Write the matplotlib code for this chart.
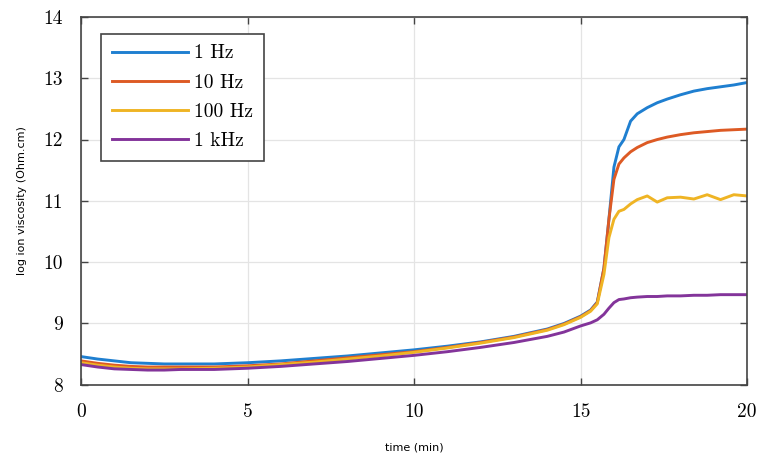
import matplotlib.pyplot as plt
import numpy as np

# time axis (min)
t = [0, 0.5, 1, 1.5, 2, 2.5, 3, 4, 5, 6, 7, 8, 9, 10, 11, 12, 13, 14, 14.5, 15, 15.3, 15.5,
     15.7, 15.85, 16.0, 16.15, 16.3, 16.5, 16.7, 17.0, 17.3, 17.6, 18.0, 18.4, 18.8, 19.2, 19.6, 20.0]

hz1 = [8.46, 8.42, 8.39, 8.36, 8.35, 8.34, 8.34, 8.34, 8.36, 8.39, 8.43, 8.47, 8.52, 8.57, 8.63, 8.70, 8.79, 8.91, 9.00, 9.12, 9.22, 9.35,
       9.9, 10.7, 11.55, 11.88, 12.0, 12.3, 12.42, 12.52, 12.6, 12.66, 12.73, 12.79, 12.83, 12.86, 12.89, 12.93]
hz10 = [8.39, 8.35, 8.32, 8.30, 8.29, 8.29, 8.29, 8.29, 8.31, 8.34, 8.39, 8.44, 8.49, 8.54, 8.61, 8.69, 8.78, 8.90, 8.99, 9.11, 9.21, 9.34,
        9.9, 10.7, 11.35, 11.6, 11.7, 11.8, 11.87, 11.95, 12.0, 12.04, 12.08, 12.11, 12.13, 12.15, 12.16, 12.17]
hz100 = [8.36, 8.32, 8.29, 8.27, 8.26, 8.26, 8.26, 8.27, 8.29, 8.33, 8.37, 8.42, 8.47, 8.53, 8.60, 8.68, 8.77, 8.89, 8.98, 9.10, 9.20, 9.32,
         9.8, 10.4, 10.7, 10.83, 10.86, 10.95, 11.02, 11.08, 10.98, 11.05, 11.06, 11.03, 11.1, 11.02, 11.1, 11.08]
khz1 = [8.33, 8.29, 8.26, 8.25, 8.24, 8.24, 8.25, 8.25, 8.27, 8.30, 8.34, 8.38, 8.43, 8.48, 8.54, 8.61, 8.69, 8.79, 8.86, 8.96, 9.01, 9.06,
        9.15, 9.25, 9.34, 9.39, 9.40, 9.42, 9.43, 9.44, 9.44, 9.45, 9.45, 9.46, 9.46, 9.47, 9.47, 9.47]

labels = ['1 Hz', '10 Hz', '100 Hz', '1 kHz']
colors = ['#1f7fd0', '#dd5a24', '#efb424', '#83349a']

fig = plt.figure(figsize=(7.57, 4.57), dpi=100)
ax = fig.add_axes([0.107, 0.158, 0.880, 0.805])

for ys, lab, c in zip([hz1, hz10, hz100, khz1], labels, colors):
    ax.plot(t, ys, color=c, lw=2.1, label=lab)

ax.set_xlim(0, 20)
ax.set_ylim(8, 14)
ax.set_xticks([0, 5, 10, 15, 20])
ax.set_yticks([8, 9, 10, 11, 12, 13, 14])
ax.grid(True, color='#e4e4e4', lw=0.9)
ax.tick_params(direction='in', top=True, right=True, length=5, width=1, color='#444444',
               labelsize=14, pad=13)
for lab in ax.get_xticklabels() + ax.get_yticklabels():
    lab.set_family('cmr10')
for s in ax.spines.values():
    s.set_color('#444444')
    s.set_linewidth(1.2)

ax.set_xlabel('time (min)', fontsize=8, labelpad=16)
ax.set_ylabel('log ion viscosity (Ohm.cm)', fontsize=8, labelpad=12)

leg = ax.legend(loc='upper left', bbox_to_anchor=(0.03, 0.954),
                prop={'family': 'cmr10', 'size': 14}, handlelength=3.9,
                labelspacing=0.58, fancybox=False, framealpha=1, borderpad=0.55,
                borderaxespad=0, handletextpad=0.35)
leg.get_frame().set_edgecolor('#444444')
leg.get_frame().set_linewidth(1.2)

fig.savefig('out.png', dpi=100)
